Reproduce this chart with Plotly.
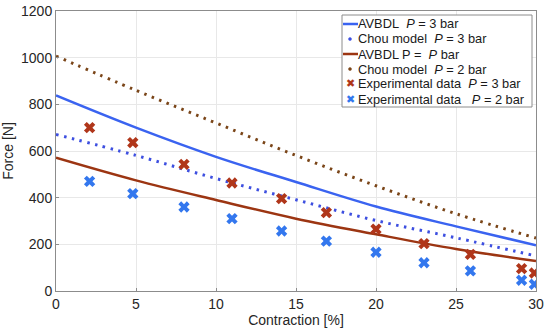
import plotly.graph_objects as go

# Model curves (read at every 5 % contraction)
x_model = [0, 5, 10, 15, 20, 25, 30]
avbdl_3bar = [838, 700, 575, 467, 362, 277, 196]
chou_3bar = [671, 581, 482, 391, 302, 228, 150]
avbdl_2bar = [571, 474, 390, 310, 243, 180, 129]
chou_2bar = [1007, 860, 720, 581, 451, 331, 227]

# Experimental data
x_exp = [2.1, 4.8, 8.0, 11.0, 14.1, 16.9, 20.0, 23.0, 25.9, 29.1, 29.9]
exp_3bar = [700, 636, 543, 463, 396, 336, 265, 203, 157, 96, 77]
exp_2bar = [470, 417, 360, 310, 257, 214, 166, 121, 86, 46, 29]

x_ticks = [0, 5, 10, 15, 20, 25, 30]
y_ticks = [0, 200, 400, 600, 800, 1000, 1200]

NB = "\u00a0"
names = [
    f"AVBDL{NB}{NB}<i>P</i> = 3 bar",
    f"Chou model{NB}{NB}<i>P</i> = 3 bar",
    f"AVBDL P ={NB}{NB}<i>P</i> bar",
    f"Chou model{NB}{NB}<i>P</i> = 2 bar",
    f"Experimental data{NB}{NB}<i>P</i> = 3 bar",
    f"Experimental data{NB}{NB}{NB}<i>P</i> = 2 bar",
]

C_AV3 = "#3a63f0"
C_CH3 = "#3d4fe0"
C_AV2 = "#9c3512"
C_CH2 = "#7a4518"
C_EX3 = "#b0361a"
C_EX2 = "#3377ee"

fig = go.Figure()
fig.add_trace(go.Scatter(x=x_model, y=avbdl_3bar, mode="lines", name=names[0],
                         line=dict(color=C_AV3, width=2.5, shape="spline")))
fig.add_trace(go.Scatter(x=x_model, y=chou_3bar, mode="lines", name=names[1],
                         line=dict(color=C_CH3, width=3, shape="spline", dash="2.5px,5.5px")))
fig.add_trace(go.Scatter(x=x_model, y=avbdl_2bar, mode="lines", name=names[2],
                         line=dict(color=C_AV2, width=2.5, shape="spline")))
fig.add_trace(go.Scatter(x=x_model, y=chou_2bar, mode="lines", name=names[3],
                         line=dict(color=C_CH2, width=3, shape="spline", dash="2.5px,5.5px")))
fig.add_trace(go.Scatter(x=x_exp, y=exp_3bar, mode="markers", name=names[4],
                         marker=dict(symbol="x", size=10, color=C_EX3,
                                     line=dict(width=0))))
fig.add_trace(go.Scatter(x=x_exp, y=exp_2bar, mode="markers", name=names[5],
                         marker=dict(symbol="x", size=10, color=C_EX2,
                                     line=dict(width=0))))

# ---- layout geometry (pixels) ----
W, H = 550, 334
ML, MR, MT, MB = 56, 14, 11, 43
PW, PH = W - ML - MR, H - MT - MB


def px(xp):
    return (xp - ML) / PW


def py(yp):
    return (H - MB - yp) / PH


# ---- custom legend (MATLAB-like compact box) ----
shapes = [dict(type="rect", xref="paper", yref="paper", layer="above",
               x0=px(342), x1=px(532), y0=py(107), y1=py(15),
               fillcolor="white", line=dict(color="#8c8c8c", width=1))]
annotations = []
row_y = [24, 39, 54, 69, 84, 99]
kinds = [("line", C_AV3), ("dot", C_CH3), ("line", C_AV2),
         ("dot", C_CH2), ("x", C_EX3), ("x", C_EX2)]
for (kind, col), yy, txt in zip(kinds, row_y, names):
    if kind == "line":
        shapes.append(dict(type="line", xref="paper", yref="paper", layer="above",
                           x0=px(343), x1=px(358), y0=py(yy), y1=py(yy),
                           line=dict(color=col, width=2.5)))
    elif kind == "dot":
        shapes.append(dict(type="circle", xref="paper", yref="paper", layer="above",
                           x0=px(348.5), x1=px(351.5), y0=py(yy + 1.5), y1=py(yy - 1.5),
                           fillcolor=col, line=dict(color=col, width=0.5)))
    else:
        annotations.append(dict(xref="paper", yref="paper", x=px(350), y=py(yy),
                                xanchor="center", yanchor="middle", showarrow=False,
                                text="\u2716", font=dict(size=11, color=col,
                                                         family="DejaVu Sans")))
    annotations.append(dict(xref="paper", yref="paper", x=px(356), y=py(yy),
                            xanchor="left", yanchor="middle", showarrow=False,
                            text=txt, font=dict(size=12.8, color="#1a1a1a")))

axis_common = dict(showline=True, linecolor="#8c8c8c", linewidth=1, mirror=True,
                   showgrid=True, gridcolor="#e8e8e8", gridwidth=1,
                   ticks="inside", ticklen=3, tickcolor="#8c8c8c",
                   zeroline=False, automargin=False,
                   tickfont=dict(size=14, color="#262626"))

fig.update_layout(
    width=W, height=H,
    margin=dict(l=ML, r=MR, t=MT, b=MB, autoexpand=False),
    paper_bgcolor="white", plot_bgcolor="white",
    font=dict(family="Liberation Sans, Arial, sans-serif", color="#262626"),
    xaxis=dict(range=[0, 30], tickvals=x_ticks,
               title=dict(text="Contraction [%]", font=dict(size=14), standoff=2),
               **axis_common),
    yaxis=dict(range=[0, 1200], tickvals=y_ticks,
               title=dict(text="Force [N]", font=dict(size=14), standoff=6),
               **axis_common),
    showlegend=False,
    shapes=shapes,
    annotations=annotations,
)

fig.write_html("out.html", config={"displayModeBar": False},
               post_script="document.body.style.margin='0';")
